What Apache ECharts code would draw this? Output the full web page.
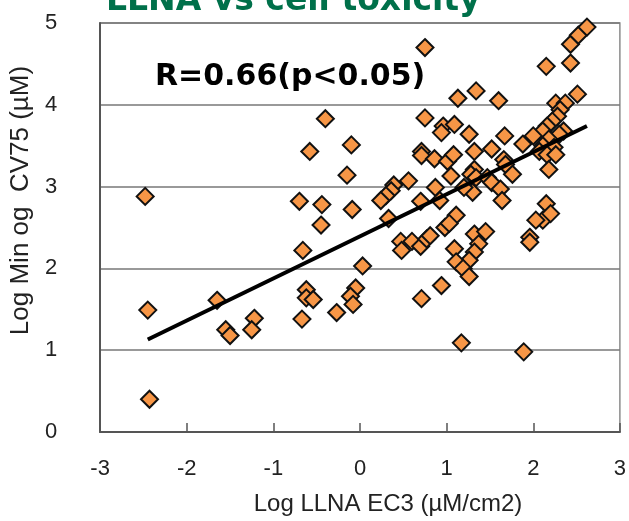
<!DOCTYPE html>
<html>
<head>
    <meta charset="utf-8">
    <title>LLNA vs cell toxicity</title>
    <script src="https://cdn.jsdelivr.net/npm/echarts@6/dist/echarts.min.js"></script>
</head>
<body style="margin:0;">
    <div id="chart" style="width: 629px;height:521px;"></div>

    <script>
        // 数据点：x = Log LLNA EC3, y = Log Min og CV75
        const logEC3 = [
            -2.48, -2.45, -2.43, -1.65, -1.55, -1.50, -1.22, -1.25,
            -0.40, -0.58, -0.10, -0.15, -0.70, -0.44, -0.09, -0.45, -0.66, 0.03,
            -0.62, -0.62, -0.54, -0.67, -0.27, -0.05, -0.11, -0.08,
            0.75, 0.96, 0.94, 0.71, 0.71, 0.86, 1.01, 0.56, 0.39, 0.36, 0.30, 0.24,
            0.87, 0.70, 0.92, 0.33, 0.47, 0.48, 0.60, 0.70, 0.77, 0.81, 0.71, 0.94,
            0.98, 1.05,
            0.75, 1.13, 1.34, 1.60, 2.15, 2.43, 2.43, 2.52, 2.62, 2.51,
            2.26, 2.37, 2.31, 2.28, 2.22, 2.16, 2.11, 2.35, 2.30, 2.00, 1.88, 2.18,
            2.11, 2.24, 2.07, 2.16, 2.26, 2.18, 1.67, 1.52, 1.66, 1.68, 1.76, 1.26,
            1.32, 1.08, 1.09, 1.32, 1.28, 1.34, 1.47, 1.52, 1.30, 1.62, 1.64, 2.15,
            2.11, 2.03, 2.20, 1.11, 1.03, 1.32, 1.45, 1.96,
            1.09, 1.37, 1.32, 1.26, 1.11, 1.19, 1.26, 1.17, 1.89, 1.96, 1.20
        ];
        const logCV75 = [
            2.88, 1.49, 0.40, 1.61, 1.25, 1.18, 1.39, 1.25,
            3.83, 3.43, 3.51, 3.14, 2.82, 2.78, 2.72, 2.53, 2.22, 2.03,
            1.74, 1.64, 1.62, 1.38, 1.46, 1.76, 1.66, 1.56,
            3.84, 3.74, 3.66, 3.43, 3.38, 3.34, 3.31, 3.07, 3.02, 2.95, 2.89, 2.83,
            2.99, 2.82, 2.83, 2.61, 2.33, 2.22, 2.33, 2.27, 2.36, 2.40, 1.63, 1.79,
            2.50, 3.13,
            4.70, 4.08, 4.17, 4.05, 4.47, 4.51, 4.74, 4.85, 4.95, 4.13,
            4.02, 4.02, 3.94, 3.86, 3.80, 3.74, 3.68, 3.68, 3.64, 3.62, 3.52, 3.58,
            3.50, 3.48, 3.43, 3.39, 3.39, 3.21, 3.62, 3.46, 3.33, 3.27, 3.15, 3.64,
            3.43, 3.39, 3.76, 3.21, 3.15, 3.11, 3.11, 3.05, 2.93, 2.97, 2.83, 2.79,
            2.59, 2.59, 2.67, 2.65, 2.55, 2.42, 2.45, 2.38,
            2.24, 2.30, 2.20, 2.10, 2.08, 2.00, 1.90, 1.09, 0.98, 2.32, 2.99
        ];

        // 回归线两端
        const trendX = [-2.45, 2.62];
        const trendY = [1.13, 3.74];

        const xTicks = [-3, -2, -1, 0, 1, 2, 3];
        const yTicks = [0, 1, 2, 3, 4, 5];

        const points = logEC3.map((x, i) => [x, logCV75[i]]);
        const trend = trendX.map((x, i) => [x, trendY[i]]);

        const chartDom = document.getElementById('chart');
        const myChart = echarts.init(chartDom);

        const option = {
            animation: false,
            backgroundColor: '#fff',
            title: {
                text: 'LLNA vs cell toxicity',
                left: 106,
                top: -15,
                padding: 0,
                textStyle: {
                    fontFamily: 'DejaVu Sans',
                    fontWeight: 'bold',
                    fontSize: 33,
                    color: '#00704A'
                }
            },
            graphic: [{
                type: 'text',
                left: 155,
                top: 62,
                style: {
                    text: 'R=0.66(p<0.05)',
                    font: 'bold 30px "DejaVu Sans"',
                    fill: '#000'
                }
            }],
            grid: {
                left: 98,
                right: 1,
                top: 23,
                bottom: 86,
                show: true,
                borderColor: '#8c8c8c',
                borderWidth: 1.5
            },
            xAxis: {
                type: 'value',
                min: xTicks[0],
                max: xTicks[xTicks.length - 1],
                interval: 1,
                name: 'Log LLNA EC3 (µM/cm2)',
                nameLocation: 'middle',
                nameGap: 60,
                nameTextStyle: {
                    fontFamily: 'Liberation Sans',
                    fontSize: 24,
                    color: '#222',
                    padding: [0, 0, 0, 56]
                },
                axisLine: { onZero: false, lineStyle: { color: '#555', width: 2 } },
                axisTick: { inside: true, length: 9, lineStyle: { color: '#555', width: 1.5 } },
                axisLabel: {
                    fontFamily: 'Liberation Sans',
                    fontSize: 22,
                    color: '#222',
                    margin: 26
                },
                splitLine: { show: false }
            },
            yAxis: {
                type: 'value',
                min: yTicks[0],
                max: yTicks[yTicks.length - 1],
                interval: 1,
                name: 'Log Min og  CV75 (µM)',
                nameLocation: 'middle',
                nameGap: 60,
                nameTextStyle: {
                    fontFamily: 'Liberation Sans',
                    fontSize: 26,
                    color: '#222',
                    padding: [0, 0, 0, 54]
                },
                axisLine: { show: true, onZero: false, lineStyle: { color: '#555', width: 2 } },
                axisTick: { show: false },
                axisLabel: {
                    fontFamily: 'Liberation Sans',
                    fontSize: 22,
                    color: '#222',
                    margin: 43
                },
                splitLine: { lineStyle: { color: '#777', width: 1.5 } }
            },
            series: [{
                name: 'compounds',
                type: 'scatter',
                symbol: 'diamond',
                symbolSize: 17,
                itemStyle: {
                    color: '#F79646',
                    borderColor: '#111',
                    borderWidth: 2,
                    opacity: 1
                },
                data: points
            }, {
                name: 'trend',
                type: 'line',
                showSymbol: false,
                z: 5,
                lineStyle: { color: '#000', width: 4 },
                data: trend
            }]
        };

        myChart.setOption(option);
    </script>
</body>
</html>
